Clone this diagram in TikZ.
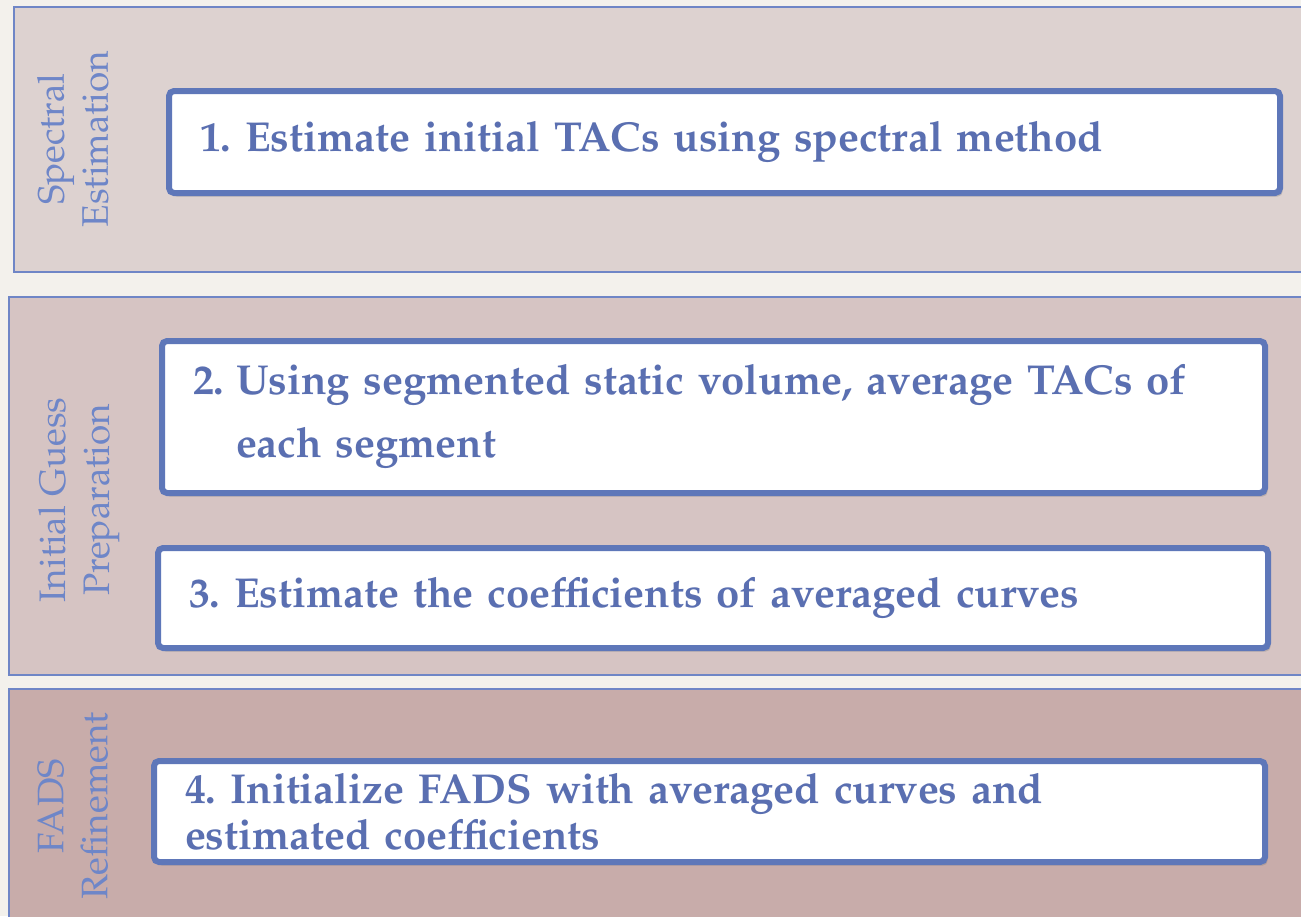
\documentclass[tikz,border=0pt]{standalone}
\usepackage[T1]{fontenc}
\usepackage{mathpazo}
\usepackage{xcolor}
\usepackage{tikz}
\usetikzlibrary{shadows}

\definecolor{pagebg}{HTML}{F3F1EC}
\definecolor{lanea}{HTML}{DDD2D0}
\definecolor{laneb}{HTML}{D6C4C3}
\definecolor{lanec}{HTML}{C8ACAA}
\definecolor{laneline}{HTML}{6F86C6}
\definecolor{boxline}{HTML}{5E77B9}
\definecolor{steptext}{HTML}{5A6FB1}
\definecolor{lbltext}{HTML}{6E86C8}
\frenchspacing

\begin{document}
\begin{tikzpicture}[
    x=0.2mm, y=-0.2mm,
    lane/.style={draw=laneline, line width=0.9pt},
    stepbox/.style={draw=boxline, fill=white, line width=1.2mm, rounded corners=1mm,
        anchor=north west, inner xsep=6.2mm, inner ysep=0pt, align=left, text=steptext,
        font=\fontsize{23.8pt}{26pt}\selectfont\bfseries,
        drop shadow={shadow xshift=1.5pt, shadow yshift=-2pt, opacity=0.35}},
    lanelbl/.style={rotate=90, align=center, text=lbltext, font=\fontsize{21pt}{25pt}\selectfont}
]
    \useasboundingbox (0,0) rectangle (1301,916);
    \fill[pagebg] (0,0) rectangle (1301,916);

    \draw[lane, fill=lanea] (14,7) rectangle (1330,272);
    \draw[lane, fill=laneb] (9,297) rectangle (1330,675);
    \draw[lane, fill=lanec] (9,689) rectangle (1330,930);

    \node[lanelbl] (lblspec) at (73,139) {Spectral\\Estimation};
    \node[lanelbl] (lblguess) at (79,500) {Initial Guess\\Preparation};
    \node[lanelbl] (lblfads) at (73,806) {FADS\\Refinement};

    \node[stepbox, text width=209.8mm, minimum height=20.4mm] (step1) at (166,88)
        {1. Estimate initial TACs using spectral method};
    \node[stepbox, text width=208.2mm, minimum height=30.4mm] (step2) at (159,338)
        {\begin{tabular}{@{}l@{\hspace{0.28em}}l@{}}2. & Using segmented static volume, average TACs of\\[10pt]
         & each segment\end{tabular}};
    \node[stepbox, text width=209.6mm, minimum height=20mm] (step3) at (155,545)
        {3. Estimate the coefficients of averaged curves};
    \node[stepbox, text width=209.8mm, minimum height=20.2mm] (step4) at (151,758)
        {4. Initialize FADS with averaged curves and\\estimated coefficients};
\end{tikzpicture}
\end{document}
